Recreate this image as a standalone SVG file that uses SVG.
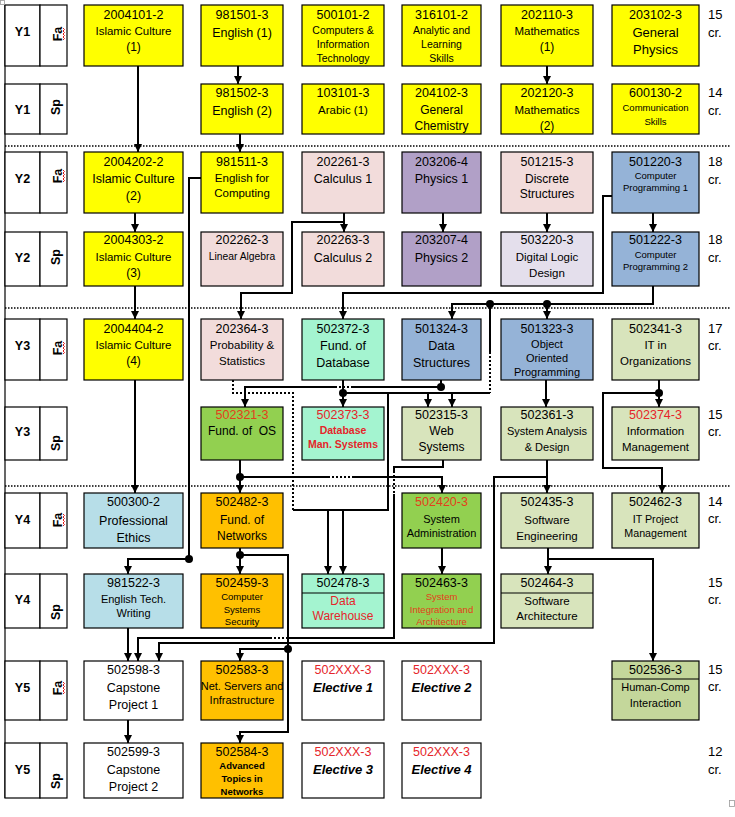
<svg xmlns="http://www.w3.org/2000/svg" width="735" height="817" viewBox="0 0 735 817">
<style>
.b{stroke:#000;stroke-width:1.2}
.cell{fill:#fff;stroke:#000;stroke-width:1.2}
.t{font-family:"Liberation Sans",Arial,sans-serif;font-size:12px;text-anchor:middle;fill:#000}
.k{font-size:12.5px}
.s{font-size:9.5px}
.bd{font-weight:bold}
.it{font-weight:bold;font-style:italic;font-size:13px}
.r{fill:#E5252A}
.o{fill:#E2401C}
.cr{font-family:"Liberation Sans",Arial,sans-serif;font-size:13px;fill:#000}
.lb{font-family:"Liberation Sans",Arial,sans-serif;font-size:12.5px;font-weight:bold;text-anchor:middle;fill:#000}
.c{stroke:#000;stroke-width:2;fill:none}
.a{marker-end:url(#ah)}
.d{stroke-dasharray:2 2}
.sep{stroke:#000;stroke-width:1.5;stroke-dasharray:1.5 1.5;fill:none}
.sq{stroke:#E00000;stroke-width:0.9;fill:none}
.yl{fill:#FFFF00}.pk{fill:#F2DCDB}.pu{fill:#B1A0C7}.lv{fill:#E4DFEC}.bl{fill:#95B3D7}
.mt{fill:#A4F4D0}.gr{fill:#92D050}.lg{fill:#D8E4BC}.hg{fill:#C4D79B}.or{fill:#FFC000}.lb2{fill:#B7DEE8}.wh{fill:#FFFFFF}
</style>
<defs>
<marker id="ah" viewBox="0 0 10 10" refX="10" refY="5" markerWidth="8" markerHeight="8" markerUnits="userSpaceOnUse" orient="auto">
<path d="M0,0 L10,5 L0,10 z" fill="#000"/>
</marker>
</defs>
<rect width="735" height="817" fill="#fff"/>

<!-- table frame -->
<g id="labels">
<line x1="5" y1="5" x2="5" y2="798" stroke="#000" stroke-width="1.2"/>
<rect class="cell" x="5" y="5" width="35" height="61"/><rect class="cell" x="40" y="5" width="27" height="61"/>
<rect class="cell" x="5" y="84" width="35" height="50"/><rect class="cell" x="40" y="84" width="27" height="50"/>
<rect class="cell" x="5" y="152" width="35" height="61"/><rect class="cell" x="40" y="152" width="27" height="61"/>
<rect class="cell" x="5" y="232" width="35" height="54"/><rect class="cell" x="40" y="232" width="27" height="54"/>
<rect class="cell" x="5" y="319" width="35" height="61"/><rect class="cell" x="40" y="319" width="27" height="61"/>
<rect class="cell" x="5" y="407" width="35" height="53"/><rect class="cell" x="40" y="407" width="27" height="53"/>
<rect class="cell" x="5" y="493" width="35" height="55"/><rect class="cell" x="40" y="493" width="27" height="55"/>
<rect class="cell" x="5" y="574" width="35" height="54"/><rect class="cell" x="40" y="574" width="27" height="54"/>
<rect class="cell" x="5" y="661" width="35" height="59"/><rect class="cell" x="40" y="661" width="27" height="59"/>
<rect class="cell" x="5" y="743" width="35" height="55"/><rect class="cell" x="40" y="743" width="27" height="55"/>
<text class="lb" x="22.5" y="36">Y1</text>
<text class="lb" x="22.5" y="114">Y1</text>
<text class="lb" x="22.5" y="183">Y2</text>
<text class="lb" x="22.5" y="262">Y2</text>
<text class="lb" x="22.5" y="350">Y3</text>
<text class="lb" x="22.5" y="436">Y3</text>
<text class="lb" x="22.5" y="524">Y4</text>
<text class="lb" x="22.5" y="604">Y4</text>
<text class="lb" x="22.5" y="692">Y5</text>
<text class="lb" x="22.5" y="774">Y5</text>
<text class="lb" transform="translate(62,34) rotate(-90)">Fa</text>
<text class="lb" transform="translate(60,107) rotate(-90)">Sp</text>
<text class="lb" transform="translate(62,176) rotate(-90)">Fa</text>
<text class="lb" transform="translate(60,257) rotate(-90)">Sp</text>
<text class="lb" transform="translate(62,348) rotate(-90)">Fa</text>
<text class="lb" transform="translate(60,443) rotate(-90)">Sp</text>
<text class="lb" transform="translate(62,520) rotate(-90)">Fa</text>
<text class="lb" transform="translate(60,612) rotate(-90)">Sp</text>
<text class="lb" transform="translate(62,688) rotate(-90)">Fa</text>
<text class="lb" transform="translate(60,781) rotate(-90)">Sp</text>
<path class="sq" d="M63,28 l1.5,1.5 l-1.5,1.5 l1.5,1.5 l-1.5,1.5 l1.5,1.5 l-1.5,1.5 l1.5,1.5 l-1.5,1.5"/>
<path class="sq" d="M63,170 l1.5,1.5 l-1.5,1.5 l1.5,1.5 l-1.5,1.5 l1.5,1.5 l-1.5,1.5 l1.5,1.5 l-1.5,1.5"/>
<path class="sq" d="M63,342 l1.5,1.5 l-1.5,1.5 l1.5,1.5 l-1.5,1.5 l1.5,1.5 l-1.5,1.5 l1.5,1.5 l-1.5,1.5"/>
<path class="sq" d="M63,514 l1.5,1.5 l-1.5,1.5 l1.5,1.5 l-1.5,1.5 l1.5,1.5 l-1.5,1.5 l1.5,1.5 l-1.5,1.5"/>
<path class="sq" d="M63,682 l1.5,1.5 l-1.5,1.5 l1.5,1.5 l-1.5,1.5 l1.5,1.5 l-1.5,1.5 l1.5,1.5 l-1.5,1.5"/>
<line class="sep" x1="5" y1="146" x2="730" y2="146"/>
<line class="sep" x1="5" y1="308" x2="730" y2="308"/>
<line class="sep" x1="5" y1="486" x2="730" y2="486"/>
<rect x="0.5" y="0.5" width="4" height="4" fill="none" stroke="#999" stroke-width="0.8"/>
<rect x="729.5" y="800.5" width="5" height="6" fill="none" stroke="#999" stroke-width="0.8"/>
</g>

<g id="credits">
<text class="cr" x="708" y="19">15</text><text class="cr" x="708" y="37">cr.</text>
<text class="cr" x="708" y="97">14</text><text class="cr" x="708" y="115">cr.</text>
<text class="cr" x="708" y="166">18</text><text class="cr" x="708" y="184">cr.</text>
<text class="cr" x="708" y="244">18</text><text class="cr" x="708" y="262">cr.</text>
<text class="cr" x="708" y="333">17</text><text class="cr" x="708" y="350">cr.</text>
<text class="cr" x="708" y="419">15</text><text class="cr" x="708" y="436">cr.</text>
<text class="cr" x="708" y="506">14</text><text class="cr" x="708" y="523">cr.</text>
<text class="cr" x="708" y="587">15</text><text class="cr" x="708" y="604">cr.</text>
<text class="cr" x="708" y="674">15</text><text class="cr" x="708" y="691">cr.</text>
<text class="cr" x="708" y="756">12</text><text class="cr" x="708" y="774">cr.</text>
</g>

<!-- Row 1 -->
<g id="c2004101"><rect class="b yl" x="84" y="5" width="99" height="61"/><text class="t k" x="133.5" y="19">2004101-2</text><text class="t" x="133.5" y="35" style="font-size:11.5px">Islamic Culture</text><text class="t" x="133.5" y="51">(1)</text></g>
<g id="c981501"><rect class="b yl" x="201" y="5" width="82" height="61"/><text class="t k" x="242" y="19">981501-3</text><text class="t k" x="242" y="37">English (1)</text></g>
<g id="c500101"><rect class="b yl" x="302" y="5" width="82" height="61"/><text class="t k" x="343" y="19">500101-2</text><text class="t" x="343" y="34" style="font-size:10.5px">Computers &amp;</text><text class="t" x="343" y="48" style="font-size:10.5px">Information</text><text class="t" x="343" y="62" style="font-size:10.5px">Technology</text></g>
<g id="c316101"><rect class="b yl" x="402" y="5" width="79" height="61"/><text class="t k" x="441.5" y="19">316101-2</text><text class="t" x="441.5" y="34" style="font-size:10.5px">Analytic and</text><text class="t" x="441.5" y="48" style="font-size:10.5px">Learning</text><text class="t" x="441.5" y="62" style="font-size:10.5px">Skills</text></g>
<g id="c202110"><rect class="b yl" x="501" y="5" width="92" height="61"/><text class="t k" x="547" y="19">202110-3</text><text class="t" x="547" y="35" style="font-size:11.5px">Mathematics</text><text class="t" x="547" y="51">(1)</text></g>
<g id="c203102"><rect class="b yl" x="612" y="5" width="87" height="61"/><text class="t k" x="655.5" y="19">203102-3</text><text class="t" x="655.5" y="37" style="font-size:13px">General</text><text class="t" x="655.5" y="54" style="font-size:13px">Physics</text></g>

<!-- Row 2 -->
<g id="c981502"><rect class="b yl" x="201" y="84" width="82" height="50"/><text class="t k" x="242" y="97">981502-3</text><text class="t k" x="242" y="115">English (2)</text></g>
<g id="c103101"><rect class="b yl" x="302" y="84" width="82" height="50"/><text class="t k" x="343" y="97">103101-3</text><text class="t" x="343" y="114" style="font-size:11.5px">Arabic (1)</text></g>
<g id="c204102"><rect class="b yl" x="402" y="84" width="79" height="50"/><text class="t k" x="441.5" y="97">204102-3</text><text class="t" x="441.5" y="114">General</text><text class="t" x="441.5" y="130">Chemistry</text></g>
<g id="c202120"><rect class="b yl" x="501" y="84" width="92" height="50"/><text class="t k" x="547" y="97">202120-3</text><text class="t" x="547" y="114" style="font-size:11.5px">Mathematics</text><text class="t" x="547" y="130">(2)</text></g>
<g id="c600130"><rect class="b yl" x="612" y="84" width="87" height="50"/><text class="t k" x="655.5" y="97">600130-2</text><text class="t s" x="655.5" y="111">Communication</text><text class="t s" x="655.5" y="125">Skills</text></g>

<!-- Row 3 -->
<g id="c2004202"><rect class="b yl" x="84" y="152" width="99" height="61"/><text class="t k" x="133.5" y="166">2004202-2</text><text class="t k" x="133.5" y="183">Islamic Culture</text><text class="t k" x="133.5" y="200">(2)</text></g>
<g id="c981511"><rect class="b yl" x="201" y="152" width="82" height="61"/><text class="t k" x="242" y="166">981511-3</text><text class="t" x="242" y="182" style="font-size:11.5px">English for</text><text class="t" x="242" y="197" style="font-size:11.5px">Computing</text></g>
<g id="c202261"><rect class="b pk" x="302" y="152" width="82" height="61"/><text class="t k" x="343" y="166">202261-3</text><text class="t k" x="343" y="183">Calculus 1</text></g>
<g id="c203206"><rect class="b pu" x="402" y="152" width="79" height="61"/><text class="t k" x="441.5" y="166">203206-4</text><text class="t k" x="441.5" y="183">Physics 1</text></g>
<g id="c501215"><rect class="b pk" x="501" y="152" width="92" height="61"/><text class="t k" x="547" y="166">501215-3</text><text class="t" x="547" y="183">Discrete</text><text class="t" x="547" y="198">Structures</text></g>
<g id="c501220"><rect class="b bl" x="612" y="152" width="87" height="61"/><text class="t k" x="655.5" y="166">501220-3</text><text class="t s" x="655.5" y="179">Computer</text><text class="t s" x="655.5" y="191">Programming 1</text></g>

<!-- Row 4 -->
<g id="c2004303"><rect class="b yl" x="84" y="232" width="99" height="54"/><text class="t k" x="133.5" y="244">2004303-2</text><text class="t" x="133.5" y="261" style="font-size:11.5px">Islamic Culture</text><text class="t" x="133.5" y="277">(3)</text></g>
<g id="c202262"><rect class="b pk" x="201" y="232" width="82" height="54"/><text class="t k" x="242" y="244">202262-3</text><text class="t" x="242" y="260" style="font-size:10.3px">Linear Algebra</text></g>
<g id="c202263"><rect class="b pk" x="302" y="232" width="82" height="54"/><text class="t k" x="343" y="244">202263-3</text><text class="t k" x="343" y="262">Calculus 2</text></g>
<g id="c203207"><rect class="b pu" x="402" y="232" width="79" height="54"/><text class="t k" x="441.5" y="244">203207-4</text><text class="t k" x="441.5" y="262">Physics 2</text></g>
<g id="c503220"><rect class="b lv" x="501" y="232" width="92" height="54"/><text class="t k" x="547" y="244">503220-3</text><text class="t" x="547" y="261" style="font-size:11.5px">Digital Logic</text><text class="t" x="547" y="277" style="font-size:11.5px">Design</text></g>
<g id="c501222"><rect class="b bl" x="612" y="232" width="87" height="54"/><text class="t k" x="655.5" y="244">501222-3</text><text class="t s" x="655.5" y="258">Computer</text><text class="t s" x="655.5" y="270">Programming 2</text></g>

<!-- Row 5 -->
<g id="c2004404"><rect class="b yl" x="84" y="319" width="99" height="61"/><text class="t k" x="133.5" y="333">2004404-2</text><text class="t" x="133.5" y="349" style="font-size:11.5px">Islamic Culture</text><text class="t" x="133.5" y="365">(4)</text></g>
<g id="c202364"><rect class="b pk" x="201" y="319" width="82" height="61"/><text class="t k" x="242" y="333">202364-3</text><text class="t" x="242" y="349" style="font-size:11.5px">Probability &amp;</text><text class="t" x="242" y="365" style="font-size:11.5px">Statistics</text></g>
<g id="c502372"><rect class="b mt" x="302" y="319" width="82" height="61"/><text class="t k" x="343" y="333">502372-3</text><text class="t k" x="343" y="350">Fund. of</text><text class="t k" x="343" y="367">Database</text></g>
<g id="c501324"><rect class="b bl" x="402" y="319" width="79" height="61"/><text class="t k" x="441.5" y="333">501324-3</text><text class="t k" x="441.5" y="350">Data</text><text class="t k" x="441.5" y="367">Structures</text></g>
<g id="c501323"><rect class="b bl" x="501" y="319" width="92" height="61"/><text class="t k" x="547" y="333">501323-3</text><text class="t" x="547" y="348" style="font-size:11px">Object</text><text class="t" x="547" y="362" style="font-size:11px">Oriented</text><text class="t" x="547" y="376" style="font-size:11px">Programming</text></g>
<g id="c502341"><rect class="b lg" x="612" y="319" width="87" height="61"/><text class="t k" x="655.5" y="333">502341-3</text><text class="t" x="655.5" y="349" style="font-size:11.5px">IT in</text><text class="t" x="655.5" y="365" style="font-size:11.5px">Organizations</text></g>

<!-- Row 6 -->
<g id="c502321"><rect class="b gr" x="201" y="407" width="82" height="53"/><text class="t k o" x="242" y="419">502321-3</text><text class="t" x="242" y="435" xml:space="preserve">Fund. of  OS</text></g>
<g id="c502373"><rect class="b mt" x="302" y="407" width="82" height="53"/><text class="t k r" x="343" y="419">502373-3</text><text class="t bd r" x="343" y="434" style="font-size:10.5px">Database</text><text class="t bd r" x="343" y="448" style="font-size:10.5px">Man. Systems</text></g>
<g id="c502315"><rect class="b lg" x="402" y="407" width="79" height="53"/><text class="t k" x="441.5" y="419">502315-3</text><text class="t" x="441.5" y="435">Web</text><text class="t" x="441.5" y="451">Systems</text></g>
<g id="c502361"><rect class="b lg" x="501" y="407" width="92" height="53"/><text class="t k" x="547" y="419">502361-3</text><text class="t" x="547" y="435" style="font-size:11px">System Analysis</text><text class="t" x="547" y="451" style="font-size:11px">&amp; Design</text></g>
<g id="c502374"><rect class="b lg" x="612" y="407" width="87" height="53"/><text class="t k r" x="655.5" y="419">502374-3</text><text class="t" x="655.5" y="435" style="font-size:11.5px">Information</text><text class="t" x="655.5" y="451" style="font-size:11.5px">Management</text></g>

<!-- Row 7 -->
<g id="c500300"><rect class="b lb2" x="84" y="493" width="99" height="55"/><text class="t k" x="133.5" y="506">500300-2</text><text class="t k" x="133.5" y="525">Professional</text><text class="t k" x="133.5" y="542">Ethics</text></g>
<g id="c502482"><rect class="b or" x="201" y="493" width="82" height="55"/><text class="t k" x="242" y="506">502482-3</text><text class="t" x="242" y="524">Fund. of</text><text class="t" x="242" y="540">Networks</text></g>
<g id="c502420"><rect class="b gr" x="402" y="493" width="79" height="55"/><text class="t k o" x="441.5" y="506">502420-3</text><text class="t" x="441.5" y="523" style="font-size:11px">System</text><text class="t" x="441.5" y="537" style="font-size:11px">Administration</text></g>
<g id="c502435"><rect class="b lg" x="501" y="493" width="92" height="55"/><text class="t k" x="547" y="506">502435-3</text><text class="t" x="547" y="524" style="font-size:11.5px">Software</text><text class="t" x="547" y="540" style="font-size:11.5px">Engineering</text></g>
<g id="c502462"><rect class="b lg" x="612" y="493" width="87" height="55"/><text class="t k" x="655.5" y="506">502462-3</text><text class="t" x="655.5" y="523" style="font-size:10.7px">IT Project</text><text class="t" x="655.5" y="537" style="font-size:10.7px">Management</text></g>

<!-- Row 8 -->
<g id="c981522"><rect class="b lb2" x="84" y="574" width="99" height="54"/><text class="t k" x="133.5" y="587">981522-3</text><text class="t" x="133.5" y="603" style="font-size:11px">English Tech.</text><text class="t" x="133.5" y="617" style="font-size:11px">Writing</text></g>
<g id="c502459"><rect class="b or" x="201" y="574" width="82" height="54"/><text class="t k" x="242" y="587">502459-3</text><text class="t s" x="242" y="600">Computer</text><text class="t s" x="242" y="613">Systems</text><text class="t s" x="242" y="625">Security</text></g>
<g id="c502478"><rect class="b mt" x="302" y="574" width="82" height="54"/><line x1="302" y1="593" x2="384" y2="593" stroke="#000" stroke-width="1.2"/><text class="t k" x="343" y="587">502478-3</text><text class="t r" x="343" y="605">Data</text><text class="t r" x="343" y="620">Warehouse</text></g>
<g id="c502463"><rect class="b gr" x="402" y="574" width="79" height="54"/><text class="t k" x="441.5" y="587">502463-3</text><text class="t s o" x="441.5" y="600">System</text><text class="t s o" x="441.5" y="613">Integration and</text><text class="t s o" x="441.5" y="625">Architecture</text></g>
<g id="c502464"><rect class="b lg" x="501" y="574" width="92" height="54"/><line x1="501" y1="593" x2="593" y2="593" stroke="#000" stroke-width="1.2"/><text class="t k" x="547" y="587">502464-3</text><text class="t" x="547" y="605" style="font-size:11.5px">Software</text><text class="t" x="547" y="620" style="font-size:11.5px">Architecture</text></g>

<!-- Row 9 -->
<g id="c502598"><rect class="b wh" x="84" y="661" width="99" height="59"/><text class="t k" x="133.5" y="674">502598-3</text><text class="t k" x="133.5" y="692">Capstone</text><text class="t k" x="133.5" y="709">Project 1</text></g>
<g id="c502583"><rect class="b or" x="201" y="661" width="82" height="59"/><text class="t k" x="242" y="674">502583-3</text><text class="t" x="242" y="690" style="font-size:11px">Net. Servers and</text><text class="t" x="242" y="704" style="font-size:11px">Infrastructure</text></g>
<g id="e1"><rect class="b wh" x="302" y="661" width="82" height="59"/><text class="t k r" x="343" y="674">502XXX-3</text><text class="t it" x="343" y="692">Elective 1</text></g>
<g id="e2"><rect class="b wh" x="402" y="661" width="79" height="59"/><text class="t k r" x="441.5" y="674">502XXX-3</text><text class="t it" x="441.5" y="692">Elective 2</text></g>
<g id="c502536"><rect class="b hg" x="612" y="661" width="87" height="59"/><line x1="612" y1="679" x2="699" y2="679" stroke="#000" stroke-width="1.2"/><text class="t k" x="655.5" y="674">502536-3</text><text class="t" x="655.5" y="691" style="font-size:11px">Human-Comp</text><text class="t" x="655.5" y="707" style="font-size:11px">Interaction</text></g>

<!-- Row 10 -->
<g id="c502599"><rect class="b wh" x="84" y="743" width="99" height="55"/><text class="t k" x="133.5" y="756">502599-3</text><text class="t k" x="133.5" y="774">Capstone</text><text class="t k" x="133.5" y="791">Project 2</text></g>
<g id="c502584"><rect class="b or" x="201" y="743" width="82" height="55"/><text class="t k" x="242" y="756">502584-3</text><text class="t s bd" x="242" y="769">Advanced</text><text class="t s bd" x="242" y="782">Topics in</text><text class="t s bd" x="242" y="795">Networks</text></g>
<g id="e3"><rect class="b wh" x="302" y="743" width="82" height="55"/><text class="t k r" x="343" y="756">502XXX-3</text><text class="t it" x="343" y="774">Elective 3</text></g>
<g id="e4"><rect class="b wh" x="402" y="743" width="79" height="55"/><text class="t k r" x="441.5" y="756">502XXX-3</text><text class="t it" x="441.5" y="774">Elective 4</text></g>

<!-- connectors -->
<g id="connectors">
<path class="c a" d="M138,66 V152"/>
<path class="c a" d="M238,66 V84"/>
<path class="c a" d="M240,134 V152"/>
<path class="c a" d="M547,66 V84"/>
<path class="c a" d="M135,213 V232"/>
<path class="c a" d="M135,286 V319"/>
<path class="c a" d="M135,380 V493"/>
<path class="c a" d="M201,178 H189 V559 H128 V574"/>
<path class="c a" d="M344,213 V232"/>
<path class="c a" d="M344,222 H292 V293 H241 V319"/>
<path class="c a" d="M443,213 V232"/>
<path class="c a" d="M547,213 V232"/>
<path class="c a" d="M653,213 V232"/>
<path class="c a" d="M612,196 H603 V293 H343 V319"/>
<path class="c a" d="M653,286 V304 H547 V319"/>
<path class="c a" d="M547,304 H452 V319"/>
<path class="c" d="M490,304 V352"/>
<path class="c d" d="M490,352 V393"/>
<path class="c a" d="M490,393 H452 V407"/>
<path class="c a" d="M343,380 V407"/>
<path class="c a" d="M343,393 H428 V407"/>
<path class="c" d="M428,393 H490"/>
<path class="c a" d="M388,393 V510 H328 V574"/>
<path class="c d" d="M233,380 V393 H293 V510"/>
<path class="c a" d="M293,510 H343 V574"/>
<path class="c" d="M441,380 V387 H353"/>
<path class="c d" d="M353,387 H337"/>
<path class="c a" d="M337,387 H245 V407"/>
<path class="c a" d="M240,460 V493"/>
<path class="c" d="M240,477 H328"/>
<path class="c d" d="M328,477 H353"/>
<path class="c a" d="M353,477 H442 V493"/>
<path class="c" d="M443,460 V467 H394 V471"/>
<path class="c d" d="M394,471 V494"/>
<path class="c" d="M394,494 V638 H288"/>
<path class="c d" d="M288,638 H272"/>
<path class="c a" d="M272,638 H138 V661"/>
<path class="c a" d="M546,380 V407"/>
<path class="c a" d="M547,460 V493"/>
<path class="c a" d="M547,477 H494 V643 H159 V661"/>
<path class="c a" d="M659,380 V407"/>
<path class="c a" d="M659,393 H603 V468 H662 V493"/>
<path class="c a" d="M240,548 V574"/>
<path class="c a" d="M240,555 H288 V732 H240 V743"/>
<path class="c a" d="M288,649 H240 V661"/>
<path class="c a" d="M128,628 V661"/>
<path class="c a" d="M128,720 V743"/>
<path class="c a" d="M442,548 V574"/>
<path class="c a" d="M548,548 V574"/>
<path class="c a" d="M548,559 H653 V661"/>
<circle cx="189" cy="559" r="4"/>
<circle cx="547" cy="304" r="4"/>
<circle cx="490" cy="304" r="4"/>
<circle cx="343" cy="393" r="4"/>
<circle cx="441" cy="387" r="4"/>
<circle cx="240" cy="477" r="4"/>
<circle cx="659" cy="393" r="4"/>
<circle cx="240" cy="555" r="4"/>
<circle cx="288" cy="649" r="4"/>
</g>
</svg>
